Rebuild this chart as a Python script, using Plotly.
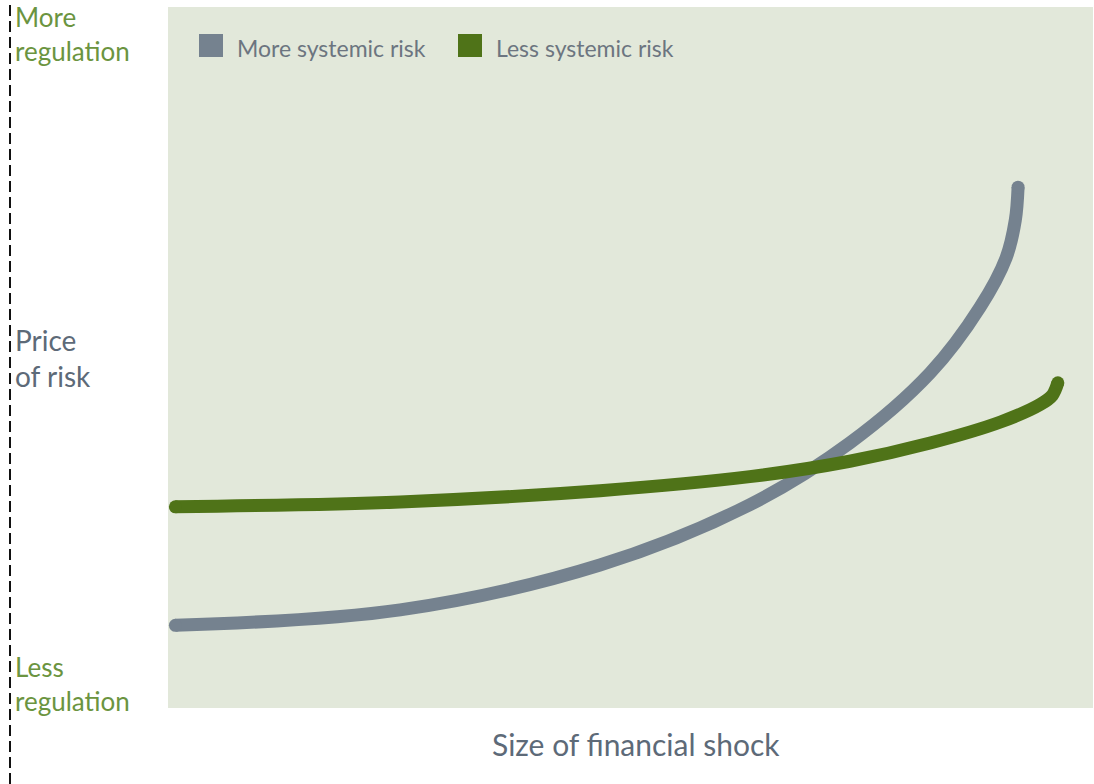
import plotly.graph_objects as go

# ---- data (axes 0-100 arbitrary units) ----
shock_more = [0.8, 25.1, 46.7, 62.9, 73.7, 82.4, 87.8, 90.6, 91.6, 91.9]
price_more = [11.8, 14.0, 20.4, 29.0, 37.8, 47.8, 57.2, 64.2, 69.6, 74.3]

shock_less = [0.8, 25.1, 46.7, 62.9, 73.7, 82.4, 90.0, 94.3, 95.6, 96.2]
price_less = [28.7, 29.4, 31.0, 33.0, 35.2, 37.8, 40.8, 43.3, 44.6, 46.4]

series_names = ["More systemic risk", "Less systemic risk"]
series_colors = ["#75828f", "#4f7318"]

x_title = "Size of financial shock"
y_top_label = "More<br>regulation"
y_mid_label = "Price<br>of risk"
y_bottom_label = "Less<br>regulation"

FONT = "Lato, 'Open Sans', sans-serif"

fig = go.Figure()
for xs, ys, name, col in [(shock_more, price_more, series_names[0], series_colors[0]),
                          (shock_less, price_less, series_names[1], series_colors[1])]:
    fig.add_trace(go.Scatter(x=xs, y=ys, mode="lines", name=name,
                             line=dict(color=col, width=13, shape="spline", smoothing=1.0),
                             showlegend=False, hoverinfo="skip"))
    # round caps at the ends
    fig.add_trace(go.Scatter(x=[xs[0], xs[-1]], y=[ys[0], ys[-1]], mode="markers",
                             marker=dict(color=col, size=13, line=dict(width=0)),
                             showlegend=False, hoverinfo="skip"))

W, H = 1094, 784
L, R, T, B = 168, 1, 7, 76
pw, ph = W - L - R, H - T - B

def px_x(p):
    return (p - L) / pw

def px_y(p):
    return (H - B - p) / ph

shapes = []
annotations = []

# dashed vertical line at the far left
shapes.append(dict(type="line", xref="paper", yref="paper",
                   x0=px_x(10), x1=px_x(10), y0=px_y(H), y1=px_y(0),
                   line=dict(color="#111111", width=2, dash="11px,5px")))

# manual legend
leg_x = [199, 458]
for i, (name, col) in enumerate(zip(series_names, series_colors)):
    shapes.append(dict(type="rect", xref="paper", yref="paper",
                       x0=px_x(leg_x[i]), x1=px_x(leg_x[i] + 24),
                       y0=px_y(57), y1=px_y(34),
                       fillcolor=col, line=dict(width=0)))
    annotations.append(dict(text=name, xref="paper", yref="paper",
                            x=px_x(leg_x[i] + 36), y=px_y(48), xanchor="left", yanchor="middle",
                            showarrow=False, font=dict(family=FONT, size=23, color="#6c7580")))

green_txt = "#6b9440"
gray_txt = "#5d6a78"
annotations.append(dict(text=y_top_label, xref="paper", yref="paper", x=px_x(13), y=px_y(34),
                        xanchor="left", yanchor="middle", align="left", showarrow=False,
                        font=dict(family=FONT, size=26, color=green_txt)))
annotations.append(dict(text=y_mid_label, xref="paper", yref="paper", x=px_x(13), y=px_y(358),
                        xanchor="left", yanchor="middle", align="left", showarrow=False,
                        font=dict(family=FONT, size=28, color=gray_txt)))
annotations.append(dict(text=y_bottom_label, xref="paper", yref="paper", x=px_x(13), y=px_y(684),
                        xanchor="left", yanchor="middle", align="left", showarrow=False,
                        font=dict(family=FONT, size=26, color=green_txt)))
annotations.append(dict(text=x_title, xref="paper", yref="paper", x=px_x(636), y=px_y(744),
                        xanchor="center", yanchor="middle", showarrow=False,
                        font=dict(family=FONT, size=30, color=gray_txt)))

fig.update_layout(
    width=W, height=H,
    margin=dict(l=L, r=R, t=T, b=B),
    paper_bgcolor="white", plot_bgcolor="#e2e8da",
    xaxis=dict(range=[0, 100], showgrid=False, zeroline=False, showticklabels=False, ticks=""),
    yaxis=dict(range=[0, 100], showgrid=False, zeroline=False, showticklabels=False, ticks=""),
    shapes=shapes, annotations=annotations, showlegend=False,
)

fig.write_html("out.html")
